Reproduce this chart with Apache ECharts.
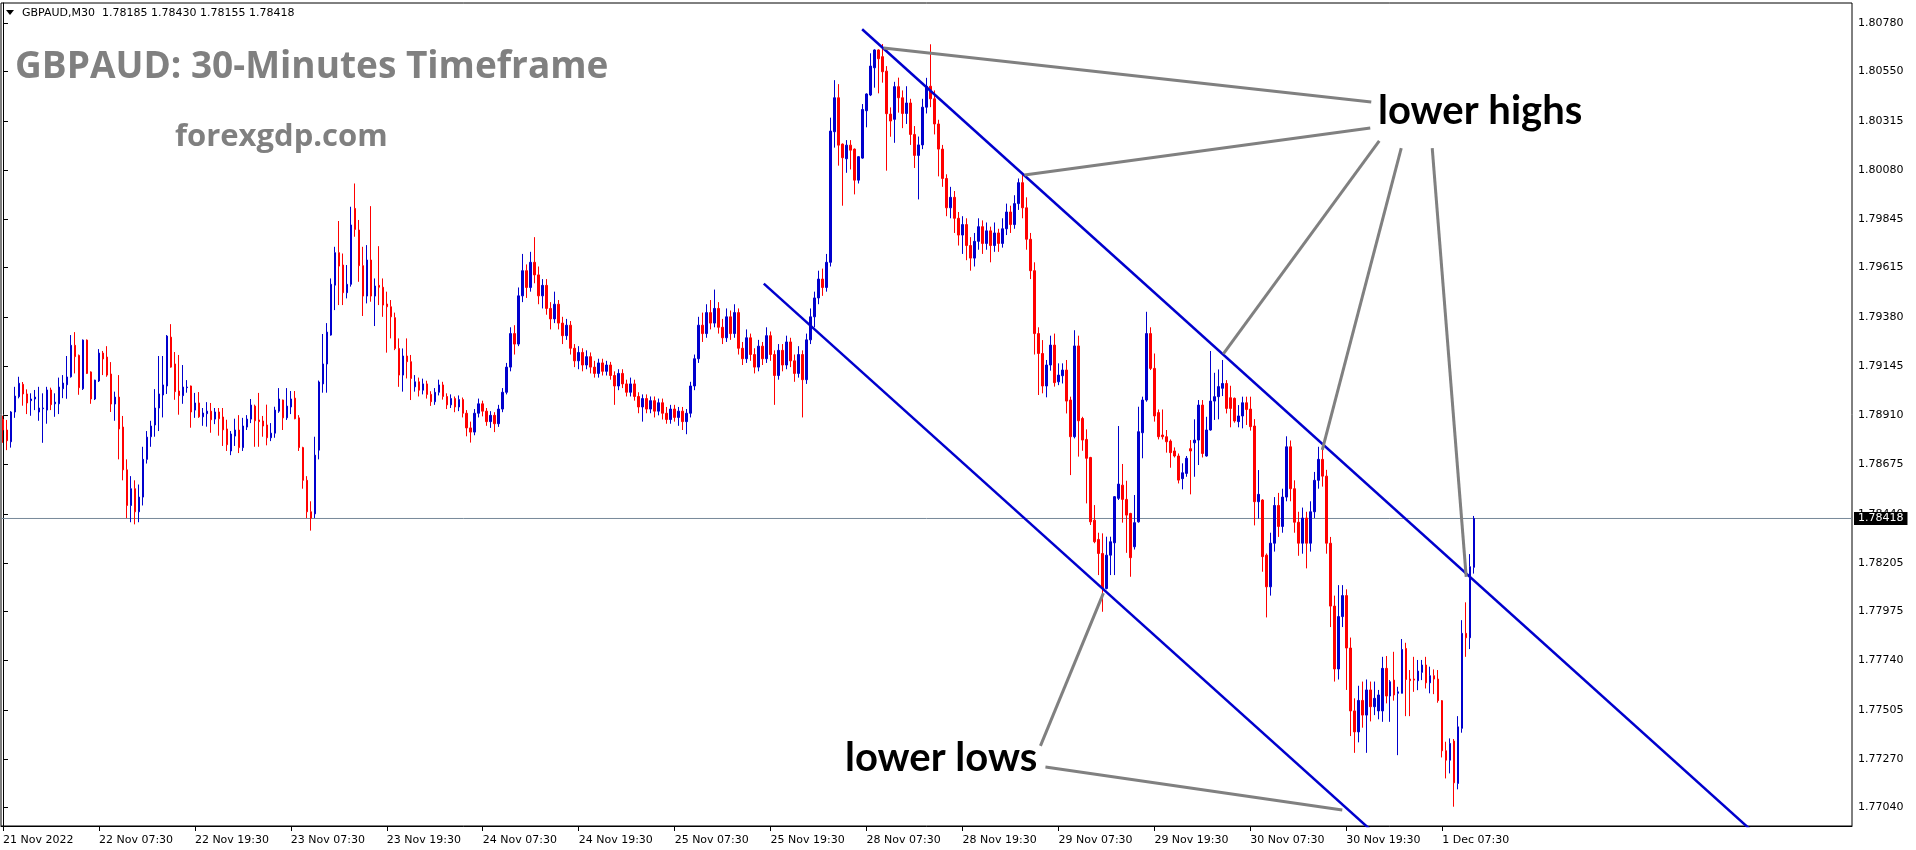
<!DOCTYPE html>
<html><head><meta charset="utf-8">
<script src="https://cdn.jsdelivr.net/npm/echarts@6/dist/echarts.min.js"></script>
<style>html,body{margin:0;padding:0;background:#fff;}#c{width:1916px;height:850px;}</style>
</head><body><div id="c"></div>
<script>
// ---- candle data: [open, close, low, high] ----
const nov21 = [
[1.78891,1.78840,1.78779,1.78908],[1.78840,1.78789,1.78744,1.78888],[1.78784,1.78926,1.78756,1.78930],
[1.78926,1.79002,1.78898,1.79046],[1.78999,1.79063,1.78991,1.79094],[1.79058,1.79012,1.78956,1.79069],
[1.79012,1.78969,1.78916,1.79034],[1.78980,1.78988,1.78908,1.79015],[1.78988,1.78997,1.78935,1.79031]];
const nov22 = [
[1.78926,1.78945,1.78884,1.79046],[1.78942,1.78945,1.78779,1.79015],[1.78935,1.79031,1.78870,1.79046],
[1.79031,1.78961,1.78935,1.79042],[1.78965,1.78973,1.78903,1.79015],[1.78965,1.79045,1.78916,1.79090],
[1.79037,1.79064,1.78992,1.79102],[1.79056,1.79093,1.78989,1.79193],[1.79094,1.79244,1.79090,1.79293],
[1.79244,1.79190,1.79110,1.79307],[1.79196,1.79042,1.79008,1.79200],[1.79037,1.79269,1.79031,1.79272],
[1.79269,1.79110,1.79107,1.79272],[1.79117,1.78988,1.78965,1.79120],[1.78988,1.79078,1.78983,1.79080],
[1.79074,1.79207,1.79069,1.79226],[1.79207,1.79179,1.79102,1.79217],[1.79188,1.79102,1.79094,1.79240],
[1.79107,1.78964,1.78926,1.79164],[1.78964,1.78997,1.78884,1.79023],[1.78997,1.78845,1.78700,1.79102],
[1.78854,1.78650,1.78600,1.78907],[1.78650,1.78480,1.78420,1.78700],[1.78480,1.78560,1.78400,1.78620],
[1.78560,1.78450,1.78390,1.78600],[1.78450,1.78520,1.78400,1.78580],[1.78520,1.78700,1.78480,1.78760],
[1.78700,1.78806,1.78680,1.78835],[1.78808,1.78859,1.78760,1.78884],[1.78864,1.78945,1.78808,1.79035],
[1.78945,1.79012,1.78835,1.79193],[1.79007,1.79055,1.78900,1.79193],[1.79050,1.79288,1.79012,1.79293],
[1.79283,1.79140,1.79137,1.79345],[1.79155,1.79023,1.78984,1.79212],[1.79026,1.79004,1.78913,1.79198],
[1.79004,1.79045,1.78965,1.79150],[1.79042,1.79045,1.79018,1.79078],[1.79050,1.78926,1.78851,1.79052],
[1.78935,1.78969,1.78898,1.79017],[1.78969,1.78903,1.78898,1.79021],[1.78903,1.78921,1.78860,1.78945],
[1.78918,1.78930,1.78856,1.78973],[1.78930,1.78889,1.78827,1.78969],[1.78892,1.78926,1.78868,1.78945],
[1.78926,1.78894,1.78813,1.78945],[1.78902,1.78841,1.78764,1.78945],[1.78845,1.78770,1.78740,1.78889]];
const nov23 = [
[1.78740,1.78821,1.78720,1.78835],[1.78811,1.78840,1.78764,1.78894],[1.78840,1.78756,1.78730,1.78911],
[1.78756,1.78859,1.78740,1.78898],[1.78854,1.78892,1.78840,1.78911],[1.78892,1.78959,1.78873,1.78988],
[1.78954,1.78884,1.78760,1.78961],[1.78888,1.78880,1.78760,1.79017],[1.78883,1.78859,1.78808,1.78907],
[1.78864,1.78803,1.78767,1.78961],[1.78803,1.78825,1.78787,1.78873],[1.78825,1.78935,1.78803,1.78951],
[1.78930,1.78988,1.78922,1.79040],[1.78983,1.78898,1.78840,1.78985],[1.78898,1.78954,1.78888,1.79040],
[1.78950,1.78988,1.78916,1.79026],[1.78992,1.78894,1.78891,1.79026],[1.78898,1.78756,1.78740,1.78911],
[1.78756,1.78600,1.78560,1.78760],[1.78600,1.78450,1.78420,1.78620],[1.78450,1.78420,1.78360,1.78500],
[1.78440,1.78720,1.78420,1.78808],[1.78744,1.79069,1.78700,1.79076],[1.79060,1.79155,1.79018,1.79298],
[1.79155,1.79307,1.79018,1.79350],[1.79293,1.79535,1.79290,1.79563],[1.79531,1.79686,1.79412,1.79714],
[1.79686,1.79622,1.79436,1.79837],[1.79627,1.79495,1.79436,1.79682],[1.79495,1.79535,1.79468,1.79627],
[1.79535,1.79818,1.79524,1.79905],[1.79897,1.79797,1.79762,1.80016],[1.79794,1.79624,1.79547,1.79842],
[1.79624,1.79479,1.79384,1.79714],[1.79479,1.79651,1.79444,1.79722],[1.79651,1.79479,1.79452,1.79908],
[1.79479,1.79527,1.79336,1.79563],[1.79530,1.79521,1.79436,1.79717],[1.79521,1.79436,1.79380,1.79563],
[1.79441,1.79428,1.79209,1.79500],[1.79428,1.79380,1.79277,1.79460],[1.79376,1.79229,1.79221,1.79400],
[1.79229,1.79102,1.79046,1.79277],[1.79102,1.79193,1.79023,1.79229],[1.79193,1.79166,1.79086,1.79277],
[1.79166,1.79086,1.78983,1.79198],[1.79046,1.79070,1.79023,1.79102],[1.79070,1.79030,1.79000,1.79090]];
const nov24 = [
[1.79030,1.79060,1.79010,1.79085],[1.79060,1.79010,1.78990,1.79075],[1.79010,1.78975,1.78955,1.79025],
[1.78975,1.79020,1.78960,1.79040],[1.79020,1.79055,1.79005,1.79080],[1.79055,1.79000,1.78985,1.79070],
[1.79000,1.78960,1.78940,1.79015],[1.78960,1.78990,1.78945,1.79010],[1.78990,1.78950,1.78925,1.79000],
[1.78950,1.78985,1.78930,1.79005],[1.78985,1.78920,1.78900,1.78995],[1.78920,1.78850,1.78810,1.78935],
[1.78850,1.78830,1.78780,1.78880],[1.78830,1.78920,1.78815,1.78940],[1.78920,1.78965,1.78900,1.78990],
[1.78965,1.78930,1.78905,1.78980],[1.78930,1.78880,1.78860,1.78945],[1.78880,1.78910,1.78850,1.78930],
[1.78910,1.78870,1.78830,1.78925],[1.78870,1.78940,1.78855,1.78960],[1.78940,1.79020,1.78925,1.79040],
[1.79020,1.79140,1.79010,1.79160],[1.79140,1.79300,1.79120,1.79330],[1.79300,1.79250,1.79200,1.79340],
[1.79250,1.79480,1.79240,1.79520],[1.79480,1.79600,1.79450,1.79680],[1.79600,1.79520,1.79470,1.79630],
[1.79520,1.79640,1.79500,1.79690],[1.79640,1.79580,1.79540,1.79760],[1.79580,1.79480,1.79440,1.79620],
[1.79480,1.79530,1.79420,1.79560],[1.79530,1.79420,1.79390,1.79560],[1.79420,1.79370,1.79320,1.79450],
[1.79370,1.79440,1.79350,1.79500],[1.79440,1.79350,1.79320,1.79460],[1.79350,1.79290,1.79250,1.79380],
[1.79290,1.79340,1.79270,1.79370],[1.79340,1.79230,1.79200,1.79360],[1.79230,1.79170,1.79140,1.79250],
[1.79170,1.79210,1.79130,1.79240],[1.79210,1.79150,1.79120,1.79230],[1.79150,1.79190,1.79130,1.79220],
[1.79190,1.79140,1.79110,1.79210],[1.79140,1.79110,1.79090,1.79170],[1.79110,1.79160,1.79090,1.79180],
[1.79160,1.79120,1.79100,1.79180],[1.79120,1.79150,1.79100,1.79170],[1.79150,1.79100,1.79080,1.79165]];
const nov25 = [
[1.79100,1.79050,1.78960,1.79120],[1.79050,1.79110,1.79030,1.79130],[1.79110,1.79060,1.79040,1.79130],
[1.79060,1.79020,1.79000,1.79080],[1.79020,1.79060,1.79000,1.79090],[1.79060,1.79000,1.78980,1.79080],
[1.79000,1.78950,1.78920,1.79020],[1.78950,1.78990,1.78880,1.79010],[1.78990,1.78940,1.78920,1.79010],
[1.78940,1.78980,1.78920,1.79000],[1.78980,1.78930,1.78900,1.79000],[1.78930,1.78970,1.78910,1.78990],
[1.78970,1.78920,1.78890,1.78990],[1.78920,1.78890,1.78870,1.78950],[1.78890,1.78940,1.78870,1.78960],
[1.78940,1.78900,1.78880,1.78960],[1.78900,1.78930,1.78860,1.78950],[1.78930,1.78880,1.78840,1.78950],
[1.78880,1.78920,1.78820,1.78940],[1.78920,1.79050,1.78900,1.79070],[1.79050,1.79180,1.79030,1.79200],
[1.79180,1.79340,1.79160,1.79380],[1.79340,1.79300,1.79260,1.79400],[1.79300,1.79400,1.79280,1.79440],
[1.79400,1.79350,1.79320,1.79460],[1.79350,1.79420,1.79330,1.79510],[1.79420,1.79330,1.79300,1.79450],
[1.79330,1.79280,1.79250,1.79370],[1.79280,1.79380,1.79260,1.79420],[1.79380,1.79300,1.79270,1.79410],
[1.79300,1.79400,1.79280,1.79440],[1.79400,1.79230,1.79200,1.79420],[1.79230,1.79180,1.79150,1.79260],
[1.79180,1.79280,1.79160,1.79320],[1.79280,1.79200,1.79170,1.79300],[1.79200,1.79140,1.79110,1.79230],
[1.79140,1.79240,1.79120,1.79270],[1.79240,1.79180,1.79150,1.79260],[1.79180,1.79290,1.79160,1.79330],
[1.79290,1.79200,1.79170,1.79310],[1.79200,1.79100,1.78960,1.79220],[1.79100,1.79220,1.79080,1.79250],
[1.79220,1.79150,1.79120,1.79250],[1.79150,1.79260,1.79130,1.79290],[1.79260,1.79170,1.79140,1.79280],
[1.79170,1.79110,1.79070,1.79200],[1.79110,1.79200,1.79090,1.79240],[1.79200,1.79080,1.78900,1.79220]];
const nov28 = [
[1.79080,1.79270,1.79060,1.79300],[1.79270,1.79380,1.79250,1.79420],[1.79380,1.79470,1.79330,1.79500],
[1.79470,1.79560,1.79440,1.79600],[1.79560,1.79520,1.79480,1.79610],[1.79520,1.79640,1.79500,1.79680],
[1.79640,1.80266,1.79620,1.80330],[1.80263,1.80425,1.80187,1.80509],[1.80425,1.80199,1.80101,1.80490],
[1.80204,1.80139,1.79910,1.80207],[1.80134,1.80199,1.80067,1.80223],[1.80199,1.80175,1.80083,1.80223],
[1.80180,1.80032,1.79964,1.80183],[1.80032,1.80144,1.80016,1.80146],[1.80137,1.80369,1.80134,1.80395],
[1.80363,1.80443,1.80284,1.80446],[1.80438,1.80576,1.80433,1.80637],[1.80568,1.80653,1.80473,1.80656],
[1.80653,1.80611,1.80446,1.80656],[1.80621,1.80549,1.80497,1.80681],[1.80552,1.80349,1.80077,1.80576],
[1.80347,1.80314,1.80239,1.80379],[1.80322,1.80478,1.80210,1.80501],[1.80478,1.80425,1.80354,1.80521],
[1.80425,1.80350,1.80280,1.80460],[1.80350,1.80400,1.80300,1.80480],[1.80400,1.80250,1.80200,1.80420],
[1.80250,1.80150,1.80090,1.80290],[1.80150,1.80200,1.79940,1.80240],[1.80200,1.80380,1.80180,1.80420],
[1.80380,1.80480,1.80350,1.80520],[1.80480,1.80420,1.80380,1.80680],[1.80420,1.80300,1.80250,1.80460],
[1.80300,1.80180,1.80050,1.80320],[1.80180,1.80040,1.80000,1.80200],[1.80040,1.79900,1.79860,1.80060],
[1.79900,1.79950,1.79850,1.80000],[1.79950,1.79850,1.79780,1.79980],[1.79850,1.79770,1.79720,1.79880],
[1.79770,1.79820,1.79680,1.79860],[1.79820,1.79720,1.79650,1.79850],[1.79720,1.79660,1.79600,1.79760],
[1.79660,1.79740,1.79620,1.79780],[1.79740,1.79810,1.79700,1.79850],[1.79810,1.79730,1.79680,1.79840],
[1.79730,1.79790,1.79700,1.79830],[1.79790,1.79720,1.79640,1.79810],[1.79720,1.79780,1.79690,1.79830]];
const nov29 = [
[1.79780,1.79730,1.79690,1.79800],[1.79730,1.79800,1.79710,1.79850],[1.79800,1.79880,1.79770,1.79920],
[1.79880,1.79820,1.79780,1.79910],[1.79820,1.79920,1.79800,1.79960],[1.79920,1.80020,1.79890,1.80040],
[1.80020,1.79900,1.79850,1.80065],[1.79900,1.79750,1.79700,1.79950],[1.79750,1.79600,1.79560,1.79780],
[1.79600,1.79300,1.79200,1.79640],[1.79300,1.79205,1.79007,1.79330],[1.79205,1.79050,1.79015,1.79269],
[1.79050,1.79150,1.78996,1.79174],[1.79150,1.79245,1.79123,1.79290],[1.79245,1.79066,1.79047,1.79300],
[1.79070,1.79102,1.79054,1.79158],[1.79099,1.79126,1.79062,1.79158],[1.79126,1.78978,1.78919,1.79174],
[1.78983,1.78808,1.78625,1.78999],[1.78808,1.79241,1.78800,1.79316],[1.79241,1.78884,1.78713,1.79290],
[1.78895,1.78792,1.78741,1.78903],[1.78795,1.78705,1.78490,1.78843],[1.78709,1.78402,1.78387,1.78712],
[1.78410,1.78307,1.78300,1.78482],[1.78318,1.78251,1.78148,1.78350],[1.78251,1.78084,1.77973,1.78347],
[1.78084,1.78243,1.78080,1.78331],[1.78243,1.78307,1.78148,1.78331],[1.78302,1.78522,1.78148,1.78525],
[1.78514,1.78582,1.78506,1.78859],[1.78577,1.78509,1.78398,1.78678],[1.78509,1.78434,1.78254,1.78598],
[1.78442,1.78231,1.78140,1.78445],[1.78283,1.78398,1.78270,1.78530],[1.78402,1.78832,1.78398,1.78951],
[1.78827,1.78983,1.78705,1.78999],[1.78983,1.79300,1.78975,1.79404],[1.79300,1.79134,1.79126,1.79330],
[1.79134,1.78907,1.78880,1.79205],[1.78923,1.78808,1.78795,1.78938],[1.78816,1.78808,1.78795,1.78938],
[1.78808,1.78784,1.78732,1.78840],[1.78787,1.78732,1.78660,1.78795],[1.78740,1.78716,1.78709,1.78757],
[1.78716,1.78601,1.78585,1.78728],[1.78608,1.78636,1.78557,1.78681],[1.78633,1.78705,1.78617,1.78716]];
const nov30 = [
[1.78751,1.78740,1.78533,1.78792],[1.78779,1.78792,1.78617,1.78891],[1.78792,1.78959,1.78673,1.78983],
[1.78959,1.78728,1.78709,1.78983],[1.78716,1.78840,1.78713,1.78903],[1.78840,1.78978,1.78837,1.79217],
[1.78978,1.78999,1.78888,1.79113],[1.78999,1.79047,1.78891,1.79129],[1.79039,1.79062,1.79002,1.79174],
[1.79062,1.78943,1.78919,1.79078],[1.78994,1.78943,1.78853,1.79051],[1.78991,1.78883,1.78875,1.78995],
[1.78880,1.78907,1.78853,1.78959],[1.78907,1.78970,1.78848,1.78999],[1.78970,1.78938,1.78864,1.78999],
[1.78940,1.78856,1.78837,1.78999],[1.78859,1.78498,1.78385,1.78892],[1.78498,1.78533,1.78418,1.78649],
[1.78506,1.78236,1.78164,1.78510],[1.78243,1.78092,1.77946,1.78251],[1.78092,1.78300,1.78050,1.78350],
[1.78300,1.78480,1.78260,1.78520],[1.78480,1.78380,1.78330,1.78540],[1.78380,1.78520,1.78350,1.78560],
[1.78520,1.78760,1.78500,1.78810],[1.78760,1.78560,1.78500,1.78790],[1.78560,1.78400,1.78350,1.78600],
[1.78400,1.78300,1.78240,1.78450],[1.78300,1.78420,1.78250,1.78470],[1.78420,1.78300,1.78180,1.78450],
[1.78300,1.78450,1.78260,1.78500],[1.78450,1.78600,1.78420,1.78640],[1.78600,1.78700,1.78560,1.78760],
[1.78700,1.78620,1.78570,1.78770],[1.78620,1.78300,1.78250,1.78650],[1.78300,1.78000,1.77900,1.78330],
[1.78000,1.77700,1.77640,1.78050],[1.77700,1.77950,1.77650,1.78100],[1.77950,1.78050,1.77900,1.78100],
[1.78050,1.77800,1.77600,1.78080],[1.77800,1.77500,1.77380,1.77850],[1.77500,1.77400,1.77300,1.77560],
[1.77400,1.77550,1.77350,1.77620],[1.77550,1.77480,1.77420,1.77640],[1.77480,1.77600,1.77300,1.77650],
[1.77600,1.77520,1.77450,1.77640],[1.77520,1.77560,1.77480,1.77640],[1.77500,1.77576,1.77460,1.77600]];
const dec01 = [
[1.77500,1.77703,1.77448,1.77758],[1.77703,1.77571,1.77536,1.77762],[1.77571,1.77639,1.77448,1.77647],
[1.77647,1.77576,1.77549,1.77782],[1.77584,1.77591,1.77289,1.77615],[1.77584,1.77793,1.77584,1.77843],
[1.77798,1.77650,1.77475,1.77825],[1.77652,1.77644,1.77475,1.77695],[1.77652,1.77647,1.77591,1.77758],
[1.77644,1.77690,1.77599,1.77743],[1.77684,1.77719,1.77647,1.77743],[1.77719,1.77634,1.77607,1.77758],
[1.77634,1.77668,1.77584,1.77711],[1.77668,1.77652,1.77580,1.77698],[1.77652,1.77549,1.77539,1.77695],
[1.77549,1.77310,1.77278,1.77552],[1.77310,1.77265,1.77178,1.77353],[1.77265,1.77345,1.77202,1.77369],
[1.77356,1.77157,1.77043,1.77366],[1.77154,1.77424,1.77126,1.77475],[1.77417,1.77870,1.77396,1.77933],
[1.77870,1.77849,1.77758,1.78018],[1.77849,1.78188,1.77795,1.78248],[1.78185,1.78418,1.78155,1.78430]];

const dayNames = ['21 Nov','22 Nov','23 Nov','24 Nov','25 Nov','28 Nov','29 Nov','30 Nov','1 Dec'];
const dayBars = [nov21,nov22,nov23,nov24,nov25,nov28,nov29,nov30,dec01];
const dayStartSlot = [39,0,0,0,0,0,0,0,0];
const totalSlots = 463;

// tick labels (every 24 bars)
const xTickIndex = [0,24,48,72,96,120,144,168,192,216,240,264,288,312,336,360];
const xTickLabels = ['21 Nov 2022','22 Nov 07:30','22 Nov 19:30','23 Nov 07:30','23 Nov 19:30','24 Nov 07:30',
 '24 Nov 19:30','25 Nov 07:30','25 Nov 19:30','28 Nov 07:30','28 Nov 19:30','29 Nov 07:30','29 Nov 19:30',
 '30 Nov 07:30','30 Nov 19:30','1 Dec 07:30'];
const yTicks = [1.77040,1.77270,1.77505,1.77740,1.77975,1.78205,1.78440,1.78675,1.78910,1.79145,1.79380,
 1.79615,1.79845,1.80080,1.80315,1.80550,1.80780];
const yMin = 1.76951, yMax = 1.80877;
const lastPrice = 1.78418;
const headerText = 'GBPAUD,M30  1.78185 1.78430 1.78155 1.78418';

// trend channel (bar index, price)
const upperChannel = [[214.9,1.80752],[450,1.76712]];
const lowerChannel = [[190.3,1.79538],[360,1.76625]];
// annotation pointer lines (bar index, price)
const highPointers = [
 [[220.25,1.80662],[342.25,1.80405]],
 [[255.5,1.80057],[342.0,1.80281]],
 [[305.25,1.79203],[344.25,1.80219]],
 [[330.0,1.78745],[349.75,1.80185]],
 [[366.0,1.78139],[357.5,1.80185]]];
const lowPointers = [
 [[275.25,1.78062],[259.5,1.77333]],
 [[260.75,1.77232],[335.0,1.77027]]];

// build categories
const categories = [];
const candles = [];
dayBars.forEach((bars, d) => {
  bars.forEach((b, j) => {
    const slot = dayStartSlot[d] + j;
    const hh = String(Math.floor(slot / 2)).padStart(2, '0');
    const mm = slot % 2 ? '30' : '00';
    categories.push(dayNames[d] + ' ' + hh + ':' + mm);
    candles.push(b);
  });
});
while (categories.length < totalSlots) categories.push('');
const tickMap = {};
xTickIndex.forEach((idx, k) => tickMap[idx] = xTickLabels[k]);

const chart = echarts.init(document.getElementById('c'), null, {renderer: 'canvas'});
const axisFont = {fontFamily: 'DejaVu Sans', fontSize: 11, color: '#000'};

function lineSeries(pts, color, width) {
  return {type: 'line', xAxisIndex: 1, yAxisIndex: 0, data: pts, symbol: 'none', silent: true,
    lineStyle: {color: color, width: width}, z: 4, clip: true, animation: false};
}

const series = [{
  type: 'candlestick', xAxisIndex: 0, yAxisIndex: 0, data: candles, barWidth: 2, z: 3,
  itemStyle: {color: '#0000CD', borderColor: '#0000CD', color0: '#FF0000', borderColor0: '#FF0000', borderWidth: 1}
}];
// current price line with price box at the right end
series.push({
  type: 'line', xAxisIndex: 1, yAxisIndex: 0, symbol: 'none', silent: true, z: 2, clip: false,
  data: [[-0.5, lastPrice], [totalSlots - 0.5, lastPrice]],
  lineStyle: {color: '#778899', width: 1},
  endLabel: {show: true, formatter: lastPrice.toFixed(5), backgroundColor: '#000', color: '#fff',
    padding: [1, 4, 1, 4], fontFamily: 'DejaVu Sans', fontSize: 11, distance: 2}
});
series.push(lineSeries(upperChannel, '#0000CD', 2.5));
series.push(lineSeries(lowerChannel, '#0000CD', 2.5));
highPointers.forEach(p => series.push(lineSeries(p, '#808080', 3)));
lowPointers.forEach(p => series.push(lineSeries(p, '#808080', 3)));

chart.setOption({
  animation: false,
  backgroundColor: '#fff',
  grid: {left: 1, right: 64, top: 3, bottom: 24, show: true, borderColor: '#000', borderWidth: 1, containLabel: false},
  xAxis: [{
    type: 'category', data: categories, boundaryGap: true,
    axisLine: {show: true, lineStyle: {color: '#000'}},
    axisTick: {show: true, alignWithLabel: true, length: 5, lineStyle: {color: '#000'},
      interval: (i) => tickMap[i] !== undefined},
    axisLabel: Object.assign({show: true, align: 'left', margin: 9,
      interval: (i) => tickMap[i] !== undefined,
      formatter: (v, i) => tickMap[i] || ''}, axisFont),
    splitLine: {show: false}
  }, {
    type: 'value', min: -0.5, max: totalSlots - 0.5, show: false
  }],
  yAxis: [{
    type: 'value', position: 'right', min: yMin, max: yMax, scale: true,
    axisLine: {show: true, lineStyle: {color: '#000'}},
    axisTick: {show: true, length: 5, lineStyle: {color: '#000'}, customValues: yTicks},
    axisLabel: Object.assign({show: true, margin: 6, customValues: yTicks,
      formatter: (v) => v.toFixed(5)}, axisFont),
    splitLine: {show: false}
  }],
  series: series,
  graphic: [
    {type: 'polygon', shape: {points: [[6, 10], [14, 10], [10, 15]]}, style: {fill: '#000'}},
    {type: 'text', x: 22, y: 13, style: {text: headerText, font: '11px "DejaVu Sans"', fill: '#000', verticalAlign: 'middle'}},
    {type: 'text', x: 15, y: 67, style: {text: 'GBPAUD: 30-Minutes Timeframe', font: 'bold 37px "Open Sans"', fill: '#808080', verticalAlign: 'middle'}},
    {type: 'text', x: 175, y: 137, style: {text: 'forexgdp.com', font: 'bold 31px "Open Sans"', fill: '#808080', verticalAlign: 'middle'}},
    {type: 'text', x: 1378, y: 111, style: {text: 'lower highs', font: 'bold 40px Lato', fill: '#000', verticalAlign: 'middle'}},
    {type: 'text', x: 845, y: 758, style: {text: 'lower lows', font: 'bold 40px Lato', fill: '#000', verticalAlign: 'middle'}}
  ]
});
</script>
</body></html>
